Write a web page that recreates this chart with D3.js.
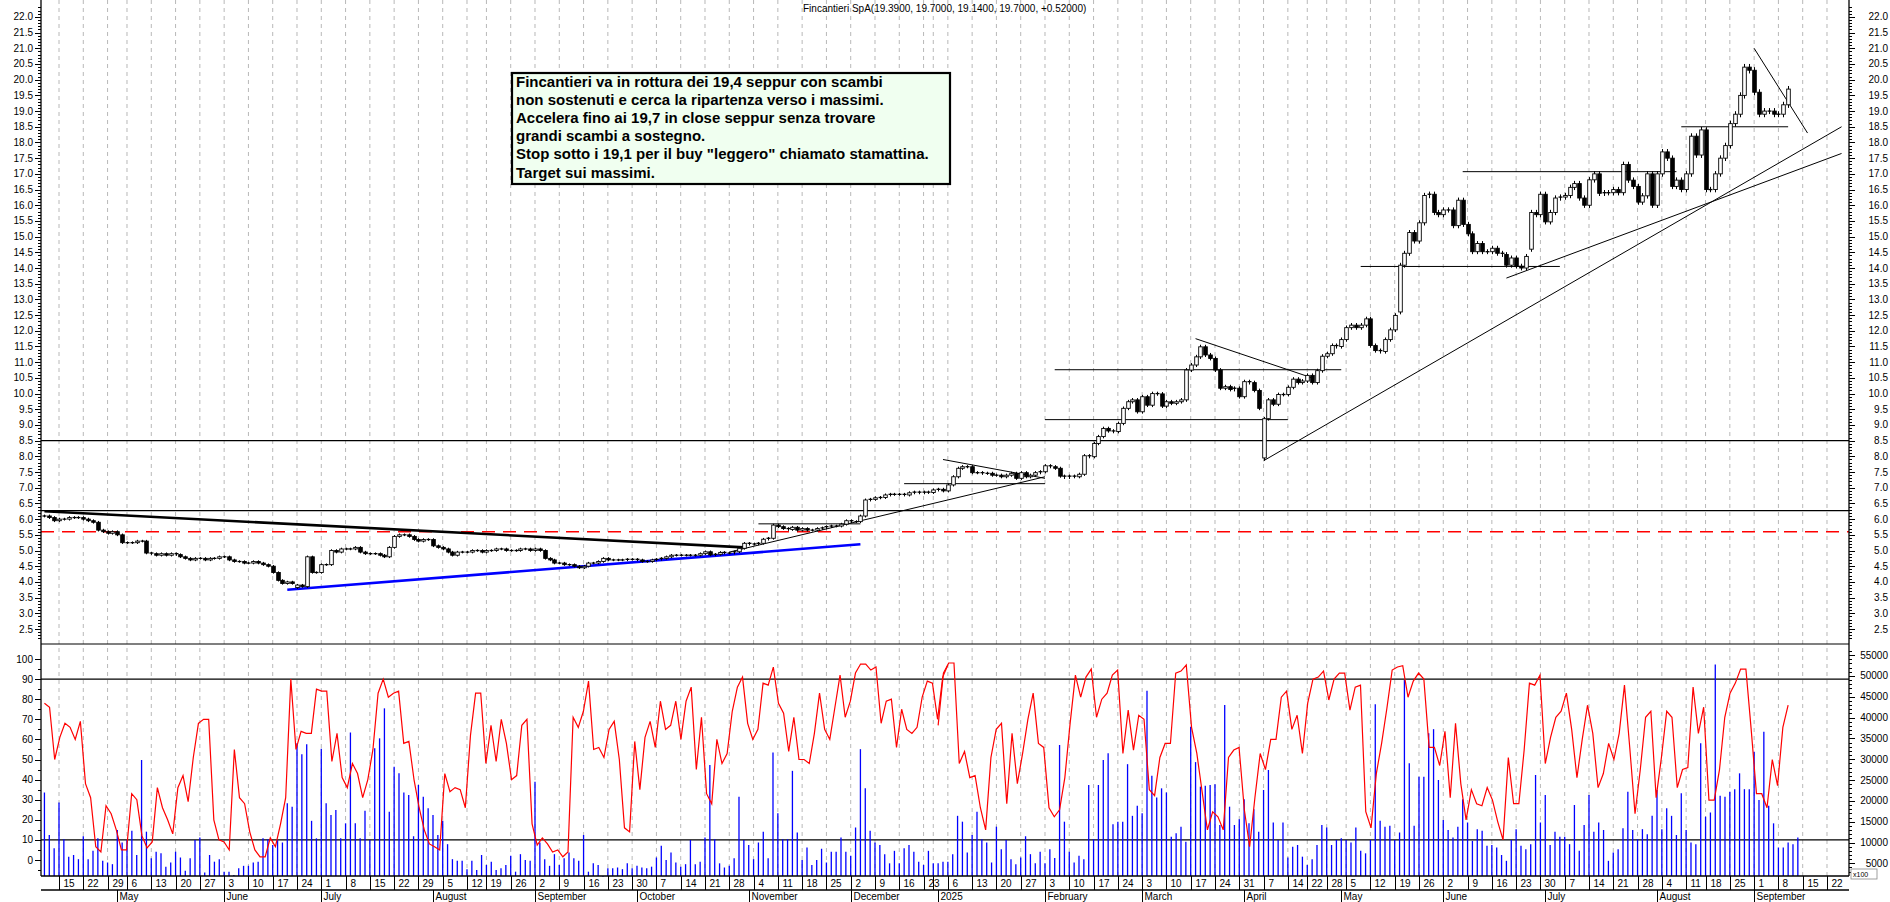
<!DOCTYPE html>
<html><head><meta charset="utf-8">
<script src="https://cdn.jsdelivr.net/npm/d3@7/dist/d3.min.js"></script>
<style>body{margin:0;background:#fff}svg{display:block;font-family:"Liberation Sans",Arial,sans-serif}</style>
</head><body><svg id="c" width="1890" height="902"></svg>
<script>
// ---------- DATA ----------
const titleText = "Fincantieri SpA(19.3900, 19.7000, 19.1400, 19.7000, +0.52000)";
const noteLines = [
 "Fincantieri va in rottura dei 19,4 seppur con scambi",
 "non sostenuti e cerca la ripartenza verso i massimi.",
 "Accelera fino ai 19,7 in close seppur senza trovare",
 "grandi scambi a sostegno.",
 "Stop sotto i 19,1 per il buy \"leggero\" chiamato stamattina.",
 "Target sui massimi."];
const holidays = ["2024-05-01","2024-08-15","2024-12-24","2024-12-25","2024-12-26","2024-12-31",
 "2025-01-01","2025-04-18","2025-04-21","2025-05-01","2025-08-15"];
const monthNames = ["2025","February","March","April","May","June","July","August","September","October","November","December"];
// closes, segment A starts 2024-04-10
const segAStart = "2024-04-10";
const segA = [6.1,6.05,5.95,6.0, 6.0,6.05,6.05,6.05,6.0,5.95, 5.9,5.65,5.6,5.55,5.6, 5.5,5.25,5.25,5.25,5.3,5.3,
 4.92,4.9,4.85,4.9,4.85,4.9,4.87,4.8, 4.75,4.7,4.75,4.75,4.7,4.75,4.75,4.8,4.8, 4.7,4.65,4.65,4.6,4.6,4.65,4.6,4.55,
 4.5,4.3,4.05,3.95,4.0,3.95,3.9,3.85, 4.8,4.3,4.3,4.55,4.55,5.0,4.95,5.05,5.05,5.05,5.1,4.95,4.9,4.9,4.9,4.85,4.8,
 5.1,5.45,5.5,5.5,5.45,5.35,5.3,5.35,5.35,5.15,5.1,5.05,4.95,4.85,4.95,4.95,
 4.95,5.0,5.0,4.95,5.0,5.0,5.05,5.05,5.0,5.0,5.0,5.05,5.05,5.0,5.05,5.0,
 4.75,4.7,4.6,4.6,4.55,4.55,4.5,4.45,4.5,4.6,4.6,4.65,4.75,4.7,4.7,4.7,4.7,4.72,4.72,4.7,4.65,4.65,4.7,4.72,4.75,4.8,4.85,4.85,4.85,4.85,4.85,4.85,4.9,4.95,4.95];
const segBStart = "2024-10-21";
const segB = [4.96,4.86,4.88,4.94,4.92,4.92,4.96,5.07,5.23,5.2,5.21,5.23,5.36,5.39,5.81,5.76,5.7,5.67,5.74,5.65,
 5.7,5.65,5.65,5.7,5.72,5.76,5.78,5.78,5.84,5.95,5.92,5.92,6.1,6.61,6.63,6.68,6.69,6.77,6.79,6.79,
 6.79,6.77,6.84,6.86,6.84,6.86,6.85,6.93,6.95,6.9,7.09,7.35,7.62,7.67,7.67,7.48,7.48,7.46,7.46,7.4,
 7.4,7.35,7.4,7.46,7.3,7.48,7.35,7.4,7.48,7.51,7.7,7.67,7.62,7.37,7.33,7.37,7.35,7.43,8.02,7.99,
 8.41,8.63,8.89,8.81,8.79,9.05,9.53,9.74,9.8,9.42,9.9,9.63,10.0,9.99,9.6,9.74,9.69,9.74,9.8,10.75,
 10.91,11.17,11.49,11.23,11.12,10.75,10.17,10.22,10.13,10.17,9.9,10.38,10.35,10.1,9.53];
const segCStart = "2025-04-07";
const segC = [9.2,9.8,9.66,9.97,9.97,10.2,10.46,10.35,10.4,10.58,10.35,10.73,11.19,11.27,11.53,11.5,11.72,12.1,12.18,12.1,
 12.18,12.38,11.53,11.37,11.34,11.72,12.03,12.49,14.09,14.47,15.13,14.86,15.44,16.31,16.35,15.77,15.7,15.85,15.85,15.35,
 16.16,15.39,15.09,14.52,14.78,14.52,14.52,14.63,14.47,14.43,14.09,14.32,14.06,14.0,14.37,15.77,15.7,16.35,15.47,15.77,
 16.23,16.26,16.31,16.57,16.69,16.23,16.0,16.81,17.0,16.38,
 16.4,16.4,16.5,16.4,17.3,16.8,16.6,16.1,16.3,17.0,16.0,17.0,17.7,17.5,16.6,16.8,16.5,17.0,18.2,17.6,
 18.4,16.5,16.5,17.0,17.5,17.9,18.6,18.9,19.5,20.4,20.3,19.6,18.9,19.0,19.0,18.9,18.9,19.2,19.7];
const openOverrides = {"2025-04-07":7.95,"2025-05-20":12.6,"2024-06-24":3.82,"2025-06-26":14.6};
const lowOverrides = {"2025-04-07":7.86,"2024-06-24":3.78};
// oscillator (%), two runs
const oscAStart = "2024-04-10", oscAEnd = "2025-01-06";
const oscA = [78,76,50,61,68,66,60,69,38,31,6.6,4,27,23,15,5,5,33,30,12,6,9,36,26,20,13,36,42,29,51,68,70,70,20,10,9,5,55,31,28,14,5,1.6,1.6,11,6.6,18,31,90,55,64,63,63,85,84,84,49,63,41,36,48,43,31,40,55,83,90,81,83,84,58,59,40,26,15,8,6.6,5,43,34,36,35,26,62,83,83,48,67,49,70,58,40,42,67,70,18,7.4,11,8,4,5,1.6,4,71,66,74,89,55,56,51,65,69,50,16,14,59,35,61,69,56,79,65,67,79,60,79,86,45,71,33,28,60,48,53,74,86,91,68,60,65,88,87,96,78,73,54,71,50,50,48,63,83,65,60,76,92,71,79,93,97.5,97.5,94.5,96,68,79,80,56,75,65,63,66,81,89,88,70,91,97];
const oscBStart = "2025-01-02", oscBEnd = "2025-09-10";
const oscB = [67,93,98,98,48,54,41,42,26,15,51,65,68,28,63,38,53,70,83,58,56,26,21.5,25,41,68,92,81,91,95,71,80,83,92,94.5,53,74.6,54.7,72,70,35,32,51,58,58,93,94,97,66,53,34,15,24,21.5,15,51,54.7,56,25,6.6,31,53,45,60,60,81,84,65,72,53,78,90,91,94,79.6,90,93,93,74.6,86,87,24,16,43,58,75.5,94.5,96,96.7,81,89,93,90,56,56,47,64,31,68,38,20,35,28,27,36,29.8,19,10,51,28,28,54.7,88,87,92,48,61,71,74,83,65,41,60,77,63,36,43,58,50,63,87,56,23,45,71,74,31,51,74,71,36,45,46,86,63,76,29.8,29.8,45,71,83,88,95,95,65,33,33,26,50,37,66,77];
// volume (thousands), one per trading day from 2024-04-10
const volStart = "2024-04-10";
const vol = [22,11.8,8.6,19.6,10.8,6.6,7,6,11.5,6,8,11,5.6,5.2,4.8,13,10,10.6,12.8,7,29.8,12.6,6.2,7.8,7.4,4.2,5.2,7.8,6.4,3.2,6.2,10.6,11.2,2.8,7,5.4,6,3,3,2.2,3.8,4.4,4.4,5.2,5.4,11,10.8,9.4,10.6,10,19.4,18.6,33.8,31.2,33.6,15.2,11,32.5,19.4,16.6,17.8,11,14.6,36.4,14.6,11,17.6,10.6,32.6,35,42.2,17.4,28.2,26.6,22,21.4,11.5,23.8,21,18.2,16.6,11.8,15.2,9.6,6,5.6,5.6,3.6,5.6,3.4,7,4.6,5.4,3.4,3.8,4.6,6.8,3,7.2,5.8,5.6,24.6,10,6,4.4,7.2,4.6,6.2,7.6,6.2,5.6,11.8,3,5,4.6,1.8,3.8,3.8,4,3.6,5,3.8,4.4,4,3.8,4.2,6.4,9.2,5.8,7.6,5.2,4.2,4.8,10.6,4.8,5.4,11.2,28.6,10.8,5,4,4.4,6.2,21,10.6,9.4,6,10,12.6,6.2,31.6,17,10.8,10.8,27.2,12.4,5.8,8.8,4.6,5.8,8.5,5.2,7.8,7.8,11.2,7.8,6.8,13.6,32.4,23,12.8,10,9.4,7.2,5,8,5,8.6,9.4,7.8,5.4,4.6,8,5,5,5.4,
 5.4,7.2,16.4,15,7.6,11.8,17.4,10.8,10,5.2,13.8,8.4,10.6,6,4.8,6.4,11.5,7.2,5,7.8,5,8.4,6.3,33.4,15,7.8,5.2,6.8,6,23.8,10.8,23.8,29.8,31.4,14.4,15,15,28.8,16.4,18.8,17,46.4,26,20.8,23,22,11.4,12.2,13.8,10.2,37.8,29.3,23.4,23.6,23.8,24,14.2,43,18.6,14.2,15.6,20.4,14.6,18,12.6,22.6,27.4,14.8,10.6,14.8,6.4,9,9.4,6.6,4.6,6,9.4,14.2,13.6,9.4,10.6,11,10.6,10,13.6,8,7.4,10.6,43.2,15.2,13.8,14,10.6,12.4,49,29,14,25.8,25.8,36.2,37.2,25,15.4,13,11.2,13.8,20.4,14.8,10.4,13.2,12.8,9.2,9.4,8.8,7,5.6,10.6,13.2,9.2,8.4,9.6,26.2,14.8,21.4,9.4,12.6,11.4,11.4,9.6,19,8,14.2,21.4,12.6,14.8,13,5.6,7.6,8.4,13.4,22.2,13,10.8,13.2,12,16.4,22.6,13.2,18.2,16.4,11.8,21.8,13,10,9.6,33.8,16.2,17.2,52.7,21.2,21,22.2,22.8,26.6,22.8,22.8,31.8,20.2,36.6,18.8,14.6,8.8,8.8,10,9.6,11.2];
// reference levels and drawn trendlines (date, price)
const hLevels = [8.5, 6.27];
const dashedLevel = 5.6;
const oscLevels = [90, 10];
const thickLines = [{a:["2024-04-10",6.25],b:["2024-10-31",5.1],color:"#000"},
                    {a:["2024-06-20",3.75],b:["2024-12-04",5.2],color:"#0000ff"}];
const thinLines = [
 [["2024-10-28",4.95],["2025-02-03",7.35]],
 [["2024-11-05",5.85],["2024-12-04",5.85]],
 [["2024-12-17",7.13],["2025-02-03",7.13]],
 [["2025-01-03",7.9],["2025-02-03",7.3]],
 [["2025-02-03",9.17],["2025-04-14",9.17]],
 [["2025-02-05",10.76],["2025-05-02",10.76]],
 [["2025-03-18",11.75],["2025-04-23",10.5]],
 [["2025-04-07",7.86],["2025-09-25",18.5]],
 [["2025-06-19",13.68],["2025-09-25",17.65]],
 [["2025-05-08",14.05],["2025-07-04",14.05]],
 [["2025-06-06",17.07],["2025-08-07",17.07]],
 [["2025-08-08",18.5],["2025-09-10",18.5]],
 [["2025-09-01",21.0],["2025-09-16",18.3]]];
const priceTicks = d3.range(2.5, 22.01, 0.5);
const oscTicks = d3.range(0, 101, 10);
const volTicks = d3.range(5000, 55001, 5000);

// ---------- LAYOUT ----------
const L=41, R=1849, TOP=0, PB=644, LB=876;
const svg = d3.select("#c");
const fmt = d3.timeFormat("%Y-%m-%d");
const days = d3.timeDays(new Date(2024,3,8), new Date(2025,9,1)).filter(d=>d.getDay()%6!==0 && !holidays.includes(fmt(d)));
const idx = new Map(days.map((d,i)=>[fmt(d),i]));
const i0 = idx.get("2024-04-15"), i1 = idx.get("2025-09-15");
const x = d3.scaleLinear().domain([i0,i1]).range([59,1802.7]);
const xd = s => x(idx.get(s));
const y = d3.scaleLinear().domain([2.5,21]).range([629,48.3]);
const yo = d3.scaleLinear().domain([0,100]).range([860,659]);
const yv = d3.scaleLinear().domain([10000,55000]).range([842.5,655]);

// candles
const closeMap = new Map();
[[segAStart,segA],[segBStart,segB],[segCStart,segC]].forEach(([s,arr])=>{
  const st = idx.get(s); arr.forEach((v,k)=>closeMap.set(st+k,v));
});
const keys=[...closeMap.keys()].sort((a,b)=>a-b);
const candles = keys.map((k,j)=>{
  const c=closeMap.get(k), ds=fmt(days[k]);
  const o = openOverrides[ds]!==undefined?openOverrides[ds]:(j>0?closeMap.get(keys[j-1]):c);
  const w = 0.004*c+0.02;
  return {i:k,o,c,h:Math.max(o,c)+w,l:lowOverrides[ds]!==undefined?lowOverrides[ds]:Math.min(o,c)-w};
});

// grid: week ticks
const weekStarts=[]; let lastWeek=null;
days.forEach((d,i)=>{ if(i<i0) return; const wk=d3.timeMonday.floor(d).getTime(); if(wk!==lastWeek){lastWeek=wk; if(d<=new Date(2025,8,26)) weekStarts.push(i);} });
const monthStarts=[]; let lastM=null;
days.forEach((d,i)=>{const m=d.getMonth(); if(m!==lastM){ if(lastM!==null && d<=new Date(2025,8,30)) monthStarts.push(i); lastM=m;}});

const g=svg.append("g");
g.selectAll(".grid").data(weekStarts).join("line").attr("x1",d=>x(d)).attr("x2",d=>x(d)).attr("y1",TOP).attr("y2",LB)
 .attr("stroke","#b8b8b8").attr("stroke-dasharray","4,4").attr("stroke-width",1);

// levels
hLevels.forEach(v=>g.append("line").attr("x1",L).attr("x2",R).attr("y1",y(v)).attr("y2",y(v)).attr("stroke","#000").attr("stroke-width",1.4));
g.append("line").attr("x1",L).attr("x2",R).attr("y1",y(dashedLevel)).attr("y2",y(dashedLevel)).attr("stroke","#ff0000").attr("stroke-width",1.4).attr("stroke-dasharray","13,8");
oscLevels.forEach(v=>g.append("line").attr("x1",L).attr("x2",R).attr("y1",yo(v)).attr("y2",yo(v)).attr("stroke","#000").attr("stroke-width",1.4));
g.append("line").attr("x1",L).attr("x2",R).attr("y1",PB).attr("y2",PB).attr("stroke","#000").attr("stroke-width",1.2);

// volume
vol.forEach((v,k)=>{const xi=x(idx.get(volStart)+k); g.append("line").attr("x1",xi).attr("x2",xi).attr("y1",LB).attr("y2",yv(v*1000)).attr("stroke","#0000ff").attr("stroke-width",1.3);});
// oscillator
function oscPath(arr,s,e){const a=idx.get(s),b=idx.get(e);const sx=d3.scaleLinear().domain([0,arr.length-1]).range([a,b]);
  return d3.line().x((v,k)=>x(sx(k))).y(v=>yo(v))(arr);}
g.append("path").attr("d",oscPath(oscA,oscAStart,oscAEnd)).attr("fill","none").attr("stroke","#ff0000").attr("stroke-width",1.2);
g.append("path").attr("d",oscPath(oscB,oscBStart,oscBEnd)).attr("fill","none").attr("stroke","#ff0000").attr("stroke-width",1.2);

// trendlines
thickLines.forEach(t=>g.append("line").attr("x1",xd(t.a[0])).attr("y1",y(t.a[1])).attr("x2",xd(t.b[0])).attr("y2",y(t.b[1])).attr("stroke",t.color).attr("stroke-width",2.6));
thinLines.forEach(t=>g.append("line").attr("x1",xd(t[0][0])).attr("y1",y(t[0][1])).attr("x2",xd(t[1][0])).attr("y2",y(t[1][1])).attr("stroke","#000").attr("stroke-width",1));

// candles
const cg=g.append("g");
candles.forEach(d=>{
  const cx=Math.round(x(d.i))+0.5;
  cg.append("line").attr("x1",cx).attr("x2",cx).attr("y1",y(d.h)).attr("y2",y(d.l)).attr("stroke","#000").attr("stroke-width",1);
  const top=y(Math.max(d.o,d.c)), bot=y(Math.min(d.o,d.c));
  const hgt=Math.max(1,bot-top);
  if(hgt<1.5){cg.append("line").attr("x1",cx-2).attr("x2",cx+2).attr("y1",top).attr("y2",top).attr("stroke","#000").attr("stroke-width",1.3);}
  else cg.append("rect").attr("x",cx-1.8).attr("y",top).attr("width",3.6).attr("height",hgt)
    .attr("fill",d.c>=d.o?"#fff":"#000").attr("stroke","#000").attr("stroke-width",0.9);
});

// frame & axes
g.append("line").attr("x1",L).attr("x2",L).attr("y1",0).attr("y2",LB).attr("stroke","#000").attr("stroke-width",1.3);
g.append("line").attr("x1",R).attr("x2",R).attr("y1",0).attr("y2",LB).attr("stroke","#000").attr("stroke-width",1.3);
g.append("line").attr("x1",L).attr("x2",R).attr("y1",LB).attr("y2",LB).attr("stroke","#000").attr("stroke-width",1.3);
g.append("line").attr("x1",L).attr("x2",R).attr("y1",890).attr("y2",890).attr("stroke","#000").attr("stroke-width",1.3);
const ax=svg.append("g").attr("font-size",10).attr("fill","#000");
d3.range(2.2,22.4,0.1).forEach(v=>{const yy=Math.round(y(v))+0.5; const maj=Math.abs(v*2-Math.round(v*2))<0.01;
  ax.append("line").attr("x1",L-(maj?6:3)).attr("x2",L).attr("y1",yy).attr("y2",yy).attr("stroke","#000");
  ax.append("line").attr("x1",R).attr("x2",R+(maj?6:3)).attr("y1",yy).attr("y2",yy).attr("stroke","#000");});
priceTicks.forEach(v=>{
  ax.append("text").attr("x",33).attr("y",y(v)+3.5).attr("text-anchor","end").text(v.toFixed(1));
  ax.append("text").attr("x",1888).attr("y",y(v)+3.5).attr("text-anchor","end").text(v.toFixed(1));});
d3.range(-5,101,5).forEach(v=>{const yy=Math.round(yo(v))+0.5; ax.append("line").attr("x1",L-(v%10===0?6:3)).attr("x2",L).attr("y1",yy).attr("y2",yy).attr("stroke","#000");});
oscTicks.forEach(v=>ax.append("text").attr("x",33).attr("y",yo(v)+3.5).attr("text-anchor","end").text(v));
d3.range(3000,57001,1000).forEach(v=>{const yy=Math.round(yv(v))+0.5; if(yy<648||yy>875)return; ax.append("line").attr("x1",R).attr("x2",R+(v%5000===0?6:3)).attr("y1",yy).attr("y2",yy).attr("stroke","#000");});
volTicks.forEach(v=>ax.append("text").attr("x",1888).attr("y",yv(v)+3.5).attr("text-anchor","end").text(v));
ax.append("rect").attr("x",1851).attr("y",869).attr("width",26).attr("height",10).attr("fill","#fff").attr("stroke","#888").attr("stroke-width",0.8);
ax.append("text").attr("x",1853).attr("y",877).attr("font-size",7).text("x100");

// date axis
let lastLabelX=-100;
weekStarts.forEach(i=>{const xx=Math.round(x(i))+0.5;
  ax.append("line").attr("x1",xx).attr("x2",xx).attr("y1",LB).attr("y2",890).attr("stroke","#000");
  if(xx-lastLabelX>=15){ax.append("text").attr("x",xx+4).attr("y",887).text(days[i].getDate()); lastLabelX=xx;}});
monthStarts.forEach(i=>{const xx=Math.round(x(i))+0.5; if(xx>R)return;
  ax.append("line").attr("x1",xx).attr("x2",xx).attr("y1",890).attr("y2",902).attr("stroke","#000");
  ax.append("text").attr("x",xx+2).attr("y",900).text(monthNames[days[i].getMonth()]);});

// title
svg.append("text").attr("x",803).attr("y",12).attr("font-size",10).text(titleText);
// note box
const nb=svg.append("g");
nb.append("rect").attr("x",512).attr("y",73).attr("width",438).attr("height",111).attr("fill","#f0fff0").attr("stroke","#000").attr("stroke-width",2.2);
noteLines.forEach((t,k)=>nb.append("text").attr("x",516).attr("y",87+k*18.1).attr("font-size",15).attr("font-weight","bold").text(t));
</script></body></html>
